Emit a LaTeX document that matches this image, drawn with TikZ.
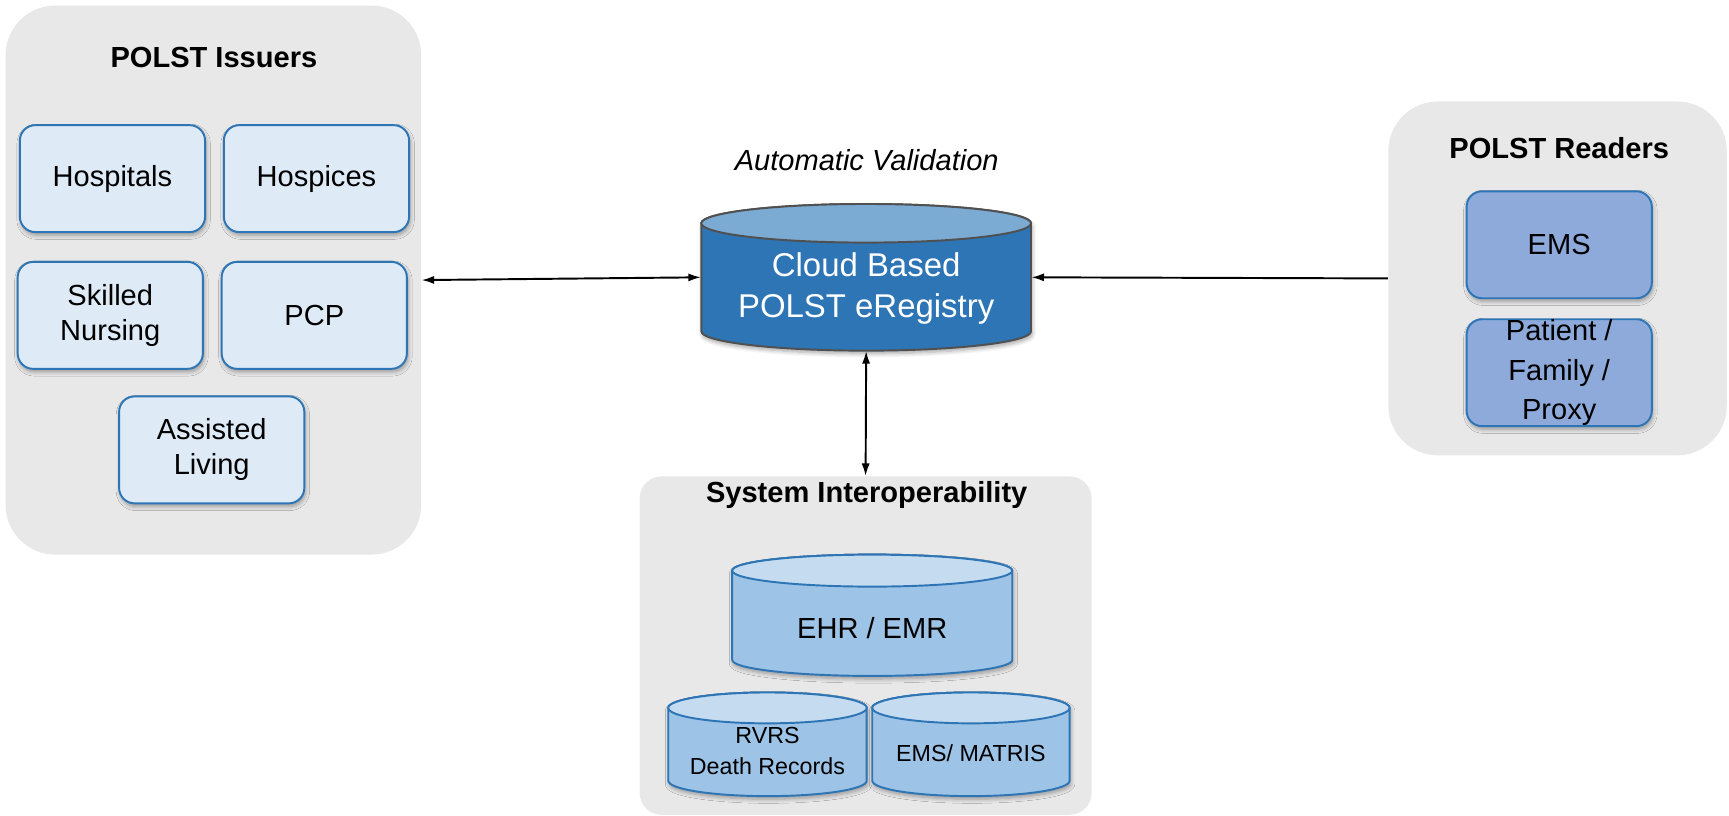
\documentclass[tikz,border=0pt]{standalone}
\usepackage{fontspec}
\setmainfont{Liberation Sans}
\usetikzlibrary{arrows.meta,shadows.blur}

\definecolor{panelgray}{HTML}{E8E8E8}
\definecolor{issuerfill}{HTML}{DEEAF6}
\definecolor{boxline}{HTML}{2E75B6}
\definecolor{readerfill}{HTML}{8EAADB}
\definecolor{cloudbody}{HTML}{2E75B6}
\definecolor{cloudtop}{HTML}{7BAAD3}
\definecolor{cloudline}{HTML}{505050}
\definecolor{dbbody}{HTML}{9DC3E6}
\definecolor{dbtop}{HTML}{C5DCF0}

\tikzset{
  panel/.style={fill=panelgray, rounded corners=9mm, inner sep=0pt},
  title/.style={font=\bfseries\fontsize{15}{18}\selectfont},
  softshadow/.style={blur shadow={shadow xshift=0.6pt, shadow yshift=-1.6pt, shadow blur steps=6, shadow opacity=35}},
  issuer/.style={fill=issuerfill, draw=boxline, line width=1pt, rounded corners=2.8mm,
    minimum width=3.36cm, minimum height=1.94cm, align=center, softshadow,
    font=\fontsize{15}{18}\selectfont},
  reader/.style={issuer, fill=readerfill},
  link/.style={line width=1pt, {Latex[length=6.5pt,width=4.2pt]}-{Latex[length=6.5pt,width=4.2pt]}},
  drumhit/.style={inner sep=0pt, draw=none},
  cloudcyl/.style={
    drumbody/.style={fill=cloudbody, draw=cloudline, line width=1pt, softshadow},
    drumtop/.style={fill=cloudtop, draw=cloudline, line width=1pt},
    drumtext/.style={text=white, align=center, font=\fontsize{17}{21.5}\selectfont}},
  dbcyl/.style={
    drumbody/.style={fill=dbbody, draw=boxline, line width=1pt, softshadow},
    drumtop/.style={fill=dbtop, draw=boxline, line width=1pt},
    drumtext/.style={align=center, font=\fontsize{15}{18}\selectfont}},
  smalltext/.style={drumtext/.append style={font=\fontsize{12}{16}\selectfont}},
}

% style, name, x, y, half width, half height, end radius, text drop, text
\newcommand{\drum}[9]{%
  \begin{scope}[#1]
    \path[drumbody] (#3-#5,#4+#6-#7) -- (#3-#5,#4-#6+#7)
      arc[start angle=180, end angle=360, x radius=#5, y radius=#7]
      -- (#3+#5,#4+#6-#7)
      arc[start angle=0, end angle=180, x radius=#5, y radius=#7] -- cycle;
    \path[drumtop] (#3,#4+#6-#7) ellipse[x radius=#5, y radius=#7];
    \node[drumhit, minimum width=2*#5*0.02cm, minimum height=2*#6*0.02cm] (#2) at (#3,#4) {};
    \node[drumtext] (#2-txt) at (#3,#4-#8) {#9};
  \end{scope}}

\begin{document}
\begin{tikzpicture}[x=0.02cm, y=0.02cm]
\useasboundingbox (0,0) rectangle (1568,740);

% grey panels
\node[panel, minimum width=7.54cm, minimum height=9.96cm] (issuers) at (193.5,486) {};
\node[panel, minimum width=6.14cm, minimum height=6.42cm] (readers) at (1412.5,487.5) {};
\node[panel, rounded corners=4mm, minimum width=8.2cm, minimum height=6.14cm] (interop) at (785,154.5) {};

\node[title] (isstitle) at (194,688) {POLST Issuers};
\node[title] (readtitle) at (1414,606) {POLST Readers};
\node[title] (inttitle) at (786,291) {System Interoperability};

% issuers
\node[issuer] (hosp) at (102,578) {Hospitals};
\node[issuer] (hospice) at (287,578) {Hospices};
\node[issuer] (snf) at (100,454) {Skilled\\Nursing};
\node[issuer] (pcp) at (285,454) {PCP};
\node[issuer] (alf) at (192,332) {Assisted\\Living};

% readers
\node[reader] (ems) at (1414,518) {EMS};
\node[reader, inner ysep=0pt, font=\fontsize{15}{20.5}\selectfont] (family) at (1414,402) {Patient /\\Family /\\Proxy};

% registry
\node[font=\itshape\fontsize{15}{18}\selectfont] (autoval) at (786,595) {Automatic Validation};
\drum{cloudcyl}{cloud}{785.5}{488.5}{149.5}{66.5}{17.5}{10}{Cloud Based\\POLST eRegistry}

% interoperability
\drum{dbcyl}{ehr}{791}{182}{127}{55}{14.5}{12}{EHR / EMR}
\drum{dbcyl, smalltext}{rvrs}{696}{65}{90}{47}{14}{6}{RVRS\\Death Records}
\drum{dbcyl, smalltext}{matris}{880.5}{65}{89.5}{47}{14}{8}{EMS/ MATRIS}

\draw[link] (issuers.east) -- (cloud.west);
\draw[link, {Latex[length=6.5pt,width=4.2pt]}-] (cloud.east) -- (readers.west);
\draw[link] (cloud.south) -- (interop.north);
\end{tikzpicture}
\end{document}
